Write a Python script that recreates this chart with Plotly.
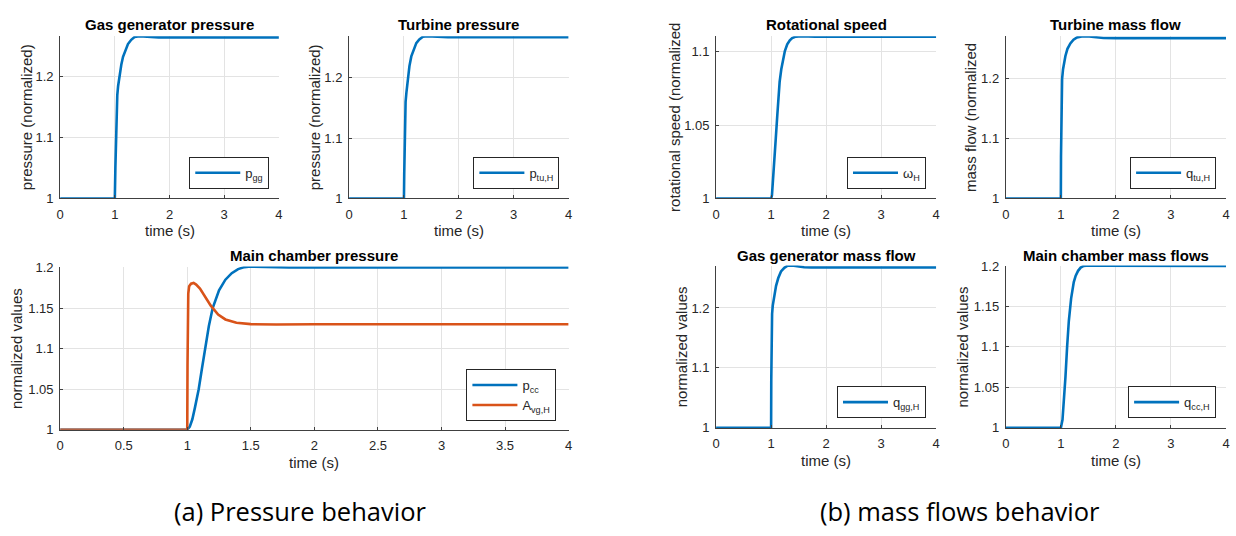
import plotly.graph_objects as go

W, H = 1236, 536
BLUE = "#0072BD"
ORANGE = "#D95319"

# ---------------- data ----------------
t_pgg = [0, 1.0, 1.01, 1.02, 1.03, 1.045, 1.06, 1.09, 1.12, 1.15, 1.2, 1.24, 1.3, 1.36, 1.45, 1.6, 1.8, 2.5, 4.0]
p_gg = [1.0, 1.0, 1.05, 1.10, 1.145, 1.17, 1.185, 1.206, 1.221, 1.233, 1.246, 1.254, 1.261, 1.2655, 1.267, 1.266, 1.265, 1.265, 1.265]

t_ptu = [0, 1.0, 1.005, 1.01, 1.015, 1.03, 1.045, 1.074, 1.1, 1.134, 1.18, 1.225, 1.28, 1.345, 1.42, 1.55, 1.8, 2.5, 4.0]
p_tu = [1.0, 1.0, 1.04, 1.09, 1.135, 1.16, 1.175, 1.203, 1.219, 1.235, 1.248, 1.257, 1.263, 1.2675, 1.2685, 1.2675, 1.2668, 1.2667, 1.2667]

t_pcc = [0, 1.0, 1.02, 1.04, 1.06, 1.09, 1.115, 1.14, 1.17, 1.2, 1.25, 1.3, 1.35, 1.4, 1.45, 1.5, 1.6, 1.8, 2.0, 4.0]
p_cc = [1.0, 1.0, 1.004, 1.013, 1.027, 1.05, 1.075, 1.1, 1.128, 1.15, 1.172, 1.185, 1.193, 1.198, 1.2005, 1.2012, 1.2005, 1.2, 1.2, 1.2]

t_avg = [0, 1.0, 1.002, 1.004, 1.008, 1.015, 1.03, 1.05, 1.07, 1.1, 1.14, 1.185, 1.243, 1.3, 1.387, 1.5, 1.7, 2.0, 4.0]
a_vg = [1.0, 1.0, 1.08, 1.14, 1.168, 1.177, 1.18, 1.181, 1.179, 1.174, 1.164, 1.153, 1.142, 1.136, 1.132, 1.1302, 1.1298, 1.13, 1.13]

t_w = [0, 1.0, 1.015, 1.03, 1.06, 1.085, 1.113, 1.135, 1.155, 1.185, 1.215, 1.25, 1.293, 1.34, 1.383, 1.45, 1.55, 1.8, 4.0]
w_h = [1.0, 1.0, 1.002, 1.009, 1.026, 1.041, 1.057, 1.07, 1.0795, 1.088, 1.095, 1.1005, 1.105, 1.1078, 1.1093, 1.1103, 1.1106, 1.1102, 1.1102]

t_qtu = [0, 1.0, 1.003, 1.006, 1.01, 1.016, 1.023, 1.04, 1.06, 1.083, 1.12, 1.173, 1.23, 1.293, 1.38, 1.474, 1.6, 1.774, 2.0, 4.0]
q_tu = [1.0, 1.0, 1.07, 1.13, 1.16, 1.18, 1.199, 1.215, 1.227, 1.237, 1.249, 1.258, 1.264, 1.268, 1.2695, 1.270, 1.2685, 1.267, 1.2668, 1.2668]

t_qgg = [0, 1.0, 1.003, 1.006, 1.01, 1.018, 1.03, 1.05, 1.07, 1.09, 1.13, 1.18, 1.24, 1.3, 1.38, 1.485, 1.6, 1.727, 2.0, 4.0]
q_gg = [1.0, 1.0, 1.08, 1.14, 1.172, 1.19, 1.204, 1.218, 1.228, 1.237, 1.25, 1.261, 1.267, 1.2705, 1.2708, 1.2692, 1.268, 1.2676, 1.2676, 1.2676]

t_qcc = [0, 1.0, 1.03, 1.054, 1.084, 1.114, 1.145, 1.187, 1.235, 1.27, 1.313, 1.36, 1.416, 1.5, 1.7, 4.0]
q_cc = [1.0, 1.0, 1.01, 1.031, 1.063, 1.1, 1.132, 1.16, 1.18, 1.188, 1.194, 1.198, 1.2, 1.2005, 1.2002, 1.2]

titles = ["Gas generator pressure", "Turbine pressure", "Main chamber pressure",
          "Rotational speed", "Turbine mass flow", "Gas generator mass flow", "Main chamber mass flows"]
ylabels = ["pressure (normalized)", "pressure (normalized)", "normalized values",
           "rotational speed (normalized", "mass flow (normalized", "normalized values", "normalized values"]
xlabel = "time (s)"

xt_int = [0, 1, 2, 3, 4]
xt_int_txt = ["0", "1", "2", "3", "4"]
xt_half = [0, 0.5, 1, 1.5, 2, 2.5, 3, 3.5, 4]
xt_half_txt = ["0", "0.5", "1", "1.5", "2", "2.5", "3", "3.5", "4"]
yt_a = [1, 1.1, 1.2]
yt_a_txt = ["1", "1.1", "1.2"]
yt_b = [1, 1.05, 1.1, 1.15, 1.2]
yt_b_txt = ["1", "1.05", "1.1", "1.15", "1.2"]
yt_c = [1, 1.05, 1.1]
yt_c_txt = ["1", "1.05", "1.1"]

captions = ["(a) Pressure behavior", "(b) mass flows behavior"]

# ---------------- layout (pixel boxes) ----------------
boxes = [
    (56.5, 276.7, 30, 197),
    (347.3, 568.3, 30, 197),
    (56.5, 568.3, 267, 435),
    (716.7, 938.3, 30, 197),
    (1008.3, 1230, 30, 197),
    (716.7, 938.3, 266, 433),
    (1008.3, 1230, 266, 433),
]
series = [
    [(t_pgg, p_gg, "p<sub>gg</sub>", BLUE)],
    [(t_ptu, p_tu, "p<sub>tu,H</sub>", BLUE)],
    [(t_pcc, p_cc, "p<sub>cc</sub>", BLUE), (t_avg, a_vg, "A<sub>vg,H</sub>", ORANGE)],
    [(t_w, w_h, "ω<sub>H</sub>", BLUE)],
    [(t_qtu, q_tu, "q<sub>tu,H</sub>", BLUE)],
    [(t_qgg, q_gg, "q<sub>gg,H</sub>", BLUE)],
    [(t_qcc, q_cc, "q<sub>cc,H</sub>", BLUE)],
]
xticks = [(xt_int, xt_int_txt)] * 2 + [(xt_half, xt_half_txt)] + [(xt_int, xt_int_txt)] * 4
yticks = [(yt_a, yt_a_txt), (yt_a, yt_a_txt), (yt_b, yt_b_txt), (yt_c, yt_c_txt),
          (yt_a, yt_a_txt), (yt_a, yt_a_txt), (yt_b, yt_b_txt)]
leg_pos = [(267, 187), (559, 187), (556, 426), (928, 187), (1220, 187), (928, 423), (1220, 423)]
ylab_x = [22, 312, 12, 675, 973, 682, 965]
xlab_y = [230, 230, 469, 230, 230, 467, 467]

FONT = "'Liberation Sans', Arial, Helvetica, sans-serif"
TXT = "#262626"


def px(x):
    return x / W


def py(y):
    return 1 - y / H


fig = go.Figure()
layout = dict(
    width=W, height=H, margin=dict(l=0, r=0, t=0, b=0),
    paper_bgcolor="white", plot_bgcolor="white",
    font=dict(family=FONT, size=13, color=TXT),
    annotations=[],
)

for i, (box, ser) in enumerate(zip(boxes, series)):
    n = i + 1
    xa = "xaxis" if n == 1 else f"xaxis{n}"
    ya = "yaxis" if n == 1 else f"yaxis{n}"
    lg = "legend" if n == 1 else f"legend{n}"
    l, r, t, b = box
    ymax = max(max(s[1]) for s in ser)
    for (tx, vy, name, col) in ser:
        fig.add_trace(go.Scatter(
            x=tx, y=vy, mode="lines", name=name,
            line=dict(color=col, width=2.6),
            xaxis="x" if n == 1 else f"x{n}", yaxis="y" if n == 1 else f"y{n}",
            legend=lg, showlegend=True, hoverinfo="skip",
        ))
    axis_common = dict(
        showgrid=True, gridcolor="#e3e3e3", gridwidth=1, zeroline=False,
        showline=True, linecolor="#404040", linewidth=1,
        ticks="inside", ticklen=3, tickcolor="#404040",
        tickfont=dict(family=FONT, size=13, color=TXT),
        ticklabeloverflow="allow", fixedrange=True,
    )
    layout[xa] = dict(
        domain=[px(l), px(r)], anchor="y" if n == 1 else f"y{n}",
        range=[0, 4], tickvals=xticks[i][0], ticktext=xticks[i][1],
        ticklabelstandoff=4, **axis_common,
    )
    layout[ya] = dict(
        domain=[py(b), py(t)], anchor="x" if n == 1 else f"x{n}",
        range=[1, ymax], tickvals=yticks[i][0], ticktext=yticks[i][1],
        ticklabelstandoff=3, **axis_common,
    )
    lr, lb = leg_pos[i]
    layout[lg] = dict(
        x=px(lr), y=py(lb), xanchor="right", yanchor="bottom",
        bgcolor="white", bordercolor="#262626", borderwidth=1,
        font=dict(family=FONT, size=13, color=TXT),
        tracegroupgap=0, itemwidth=45,
    )
    cx = (l + r) / 2
    cy = (t + b) / 2
    title_y = 18 if t < 100 else 256
    layout["annotations"].append(dict(
        text=f"<b>{titles[i]}</b>", x=px(cx), y=py(title_y), xref="paper", yref="paper",
        xanchor="center", yanchor="middle", showarrow=False,
        font=dict(family=FONT, size=15, color="#000000")))
    layout["annotations"].append(dict(
        text=xlabel, x=px(cx), y=py(xlab_y[i]), xref="paper", yref="paper",
        xanchor="center", yanchor="middle", showarrow=False,
        font=dict(family=FONT, size=15, color=TXT)))
    layout["annotations"].append(dict(
        text=ylabels[i], x=px(ylab_x[i]), y=py(cy), xref="paper", yref="paper",
        xanchor="center", yanchor="middle", showarrow=False, textangle=-90,
        font=dict(family=FONT, size=15, color=TXT)))

for txt, cx in zip(captions, [298, 962]):
    layout["annotations"].append(dict(
        text=txt, x=px(cx), y=py(518), xref="paper", yref="paper",
        xanchor="center", yanchor="middle", showarrow=False,
        font=dict(family="'Open Sans', 'Noto Sans', sans-serif", size=25.5, color="#000000")))

fig.update_layout(**layout)

# remove the default page margin so the figure fills the window exactly
page_js = ("document.body.style.margin='0';document.body.style.padding='0';"
           "document.body.style.overflow='hidden';"
           "document.documentElement.style.overflow='hidden';")
fig.write_html("out.html", post_script=page_js, config={"displayModeBar": False})
